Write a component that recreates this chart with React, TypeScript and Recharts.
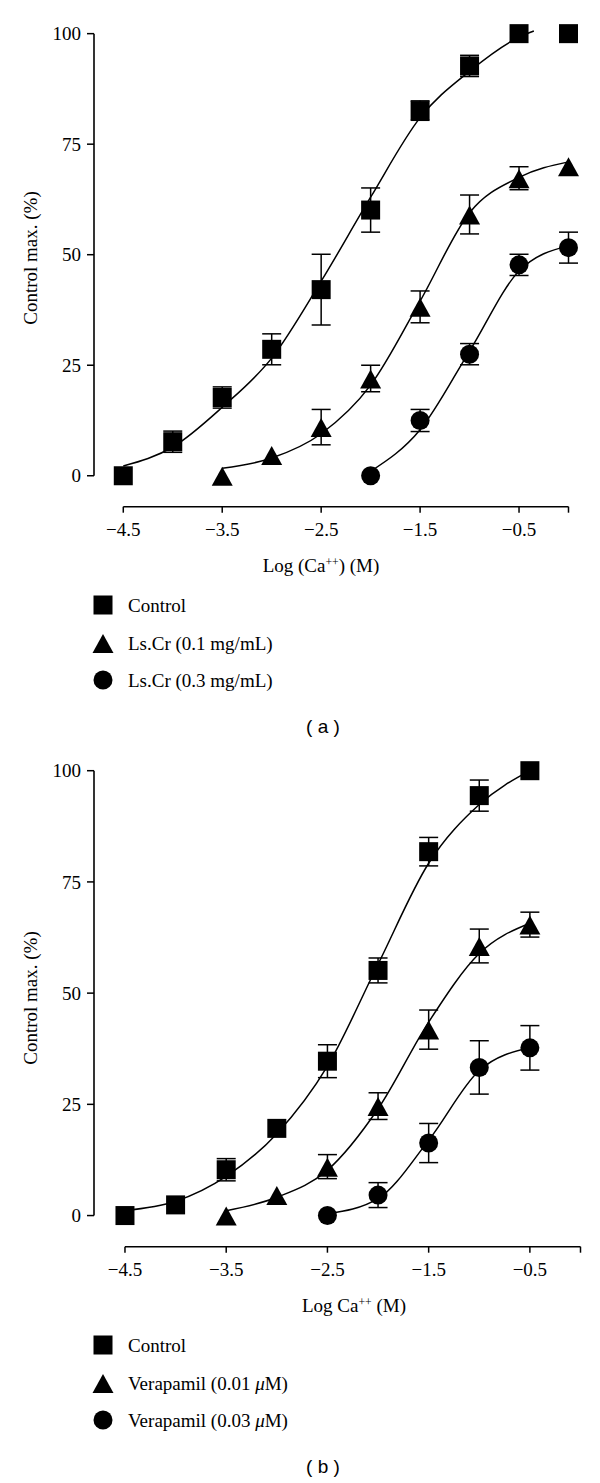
import React from 'react';
import { ComposedChart, Scatter, Line, XAxis, YAxis, ErrorBar, ReferenceLine } from 'recharts';

const X_TICKS = [-4.5, -3.5, -2.5, -1.5, -0.5, 0];
const Y_TICKS = [0, 25, 50, 75, 100];

// (a) Ls.Cr — mean with SEM (e)
const aControl = [
  { x: -4.5, y: 0, e: 0 }, { x: -4, y: 7.7, e: 2.4 }, { x: -3.5, y: 17.7, e: 2.4 },
  { x: -3, y: 28.6, e: 3.5 }, { x: -2.5, y: 42.1, e: 8 }, { x: -2, y: 60.1, e: 5 },
  { x: -1.5, y: 82.6, e: 2.2 }, { x: -1, y: 92.7, e: 2.4 }, { x: -0.5, y: 100, e: 0 }, { x: 0, y: 100, e: 0 },
];
const aLow = [
  { x: -3.5, y: 0, e: 0 }, { x: -3, y: 4.7, e: 0 }, { x: -2.5, y: 11, e: 4 },
  { x: -2, y: 22, e: 3 }, { x: -1.5, y: 38.2, e: 3.6 }, { x: -1, y: 59.1, e: 4.4 },
  { x: -0.5, y: 67.3, e: 2.6 }, { x: 0, y: 70, e: 0 },
];
const aHigh = [
  { x: -2, y: 0, e: 0 }, { x: -1.5, y: 12.5, e: 2.5 }, { x: -1, y: 27.5, e: 2.4 },
  { x: -0.5, y: 47.7, e: 2.4 }, { x: 0, y: 51.6, e: 3.5 },
];

// (a) fitted curves
const aControlFit = [
  { x: -4.5, y: 2.2 }, { x: -4, y: 6.5 }, { x: -3.5, y: 15.5 }, { x: -3, y: 26.6 },
  { x: -2.5, y: 44 }, { x: -2, y: 63 }, { x: -1.5, y: 81 }, { x: -1, y: 91.5 },
  { x: -0.5, y: 99.2 }, { x: -0.35, y: 100.6 },
];
const aLowFit = [
  { x: -3.5, y: 1.7 }, { x: -3, y: 4 }, { x: -2.5, y: 9.5 }, { x: -2, y: 20.5 },
  { x: -1.5, y: 39.5 }, { x: -1, y: 59.5 }, { x: -0.5, y: 67.5 }, { x: 0, y: 71 },
];
const aHighFit = [
  { x: -2, y: 1 }, { x: -1.5, y: 10.4 }, { x: -1, y: 28.2 }, { x: -0.5, y: 46.3 }, { x: 0, y: 52 },
];

// (b) Verapamil
const bControl = [
  { x: -4.5, y: 0, e: 0 }, { x: -4, y: 2.4, e: 0 }, { x: -3.5, y: 10.3, e: 2.5 },
  { x: -3, y: 19.6, e: 0 }, { x: -2.5, y: 34.7, e: 3.7 }, { x: -2, y: 55.1, e: 2.8 },
  { x: -1.5, y: 81.8, e: 3.2 }, { x: -1, y: 94.4, e: 3.5 }, { x: -0.5, y: 100, e: 0 },
];
const bLow = [
  { x: -3.5, y: 0, e: 0 }, { x: -3, y: 4.6, e: 0 }, { x: -2.5, y: 11, e: 2.7 },
  { x: -2, y: 24.6, e: 3 }, { x: -1.5, y: 41.8, e: 4.4 }, { x: -1, y: 60.6, e: 3.8 },
  { x: -0.5, y: 65.4, e: 2.8 },
];
const bHigh = [
  { x: -2.5, y: 0, e: 0 }, { x: -2, y: 4.6, e: 2.8 }, { x: -1.5, y: 16.3, e: 4.4 },
  { x: -1, y: 33.3, e: 6 }, { x: -0.5, y: 37.7, e: 5 },
];

const bControlFit = [
  { x: -4.5, y: 1.1 }, { x: -4, y: 3.2 }, { x: -3.5, y: 8.8 }, { x: -3, y: 18.4 },
  { x: -2.5, y: 33.6 }, { x: -2, y: 56.5 }, { x: -1.5, y: 79.2 }, { x: -1, y: 92.4 }, { x: -0.5, y: 100 },
];
const bLowFit = [
  { x: -3.5, y: 1.1 }, { x: -3, y: 4.1 }, { x: -2.5, y: 10.2 }, { x: -2, y: 24 },
  { x: -1.5, y: 43.5 }, { x: -1, y: 58.9 }, { x: -0.5, y: 65.7 },
];
const bHighFit = [
  { x: -2.5, y: 0.4 }, { x: -2, y: 3.8 }, { x: -1.5, y: 16.9 }, { x: -1, y: 32.6 }, { x: -0.5, y: 37.7 },
];

const legendA = ['Control', 'Ls.Cr (0.1 mg/mL)', 'Ls.Cr (0.3 mg/mL)'];
const legendB = ['Control', 'Verapamil (0.01 \u03BCM)', 'Verapamil (0.03 \u03BCM)'];

const SERIF = '"Liberation Serif", "Times New Roman", serif';
const INK = '#000';

const Square = ({ cx, cy }: any) => <rect x={cx - 9.5} y={cy - 9.5} width={19} height={19} fill={INK} />;
const Triangle = ({ cx, cy }: any) => (
  <polygon points={`${cx},${cy - 9} ${cx + 10.5},${cy + 10} ${cx - 10.5},${cy + 10}`} fill={INK} />
);
const Dot = ({ cx, cy }: any) => <circle cx={cx} cy={cy} r={9.5} fill={INK} />;
const SHAPES = [Square, Triangle, Dot];

const fmt = (v: number) => (v === 0 ? '' : String(v).replace('-', '\u2212'));

// legend text with an italic mu, as in the figure
const withMu = (s: string) =>
  s.split('\u03BC').map((part, i) => (
    <React.Fragment key={i}>
      {i > 0 && <i>{'\u03BC'}</i>}
      {part}
    </React.Fragment>
  ));

const Centered = ({ x, y, children, style }: any) => (
  <div style={{ position: 'absolute', left: x, top: y, transform: 'translate(-50%, -50%)', whiteSpace: 'nowrap', lineHeight: 1, ...style }}>
    {children}
  </div>
);

const Sup = ({ children }: any) => (
  <span style={{ fontSize: '0.62em', position: 'relative', top: '-0.5em' }}>{children}</span>
);

function Panel({ top, series, fits, xMin, marginTop, marginRight, xTitle, xTitleX, legend, tag }: any) {
  return (
    <div style={{ position: 'absolute', left: 0, top, width: 600, height: 740 }}>
      <ComposedChart width={600} height={560} margin={{ top: marginTop, right: marginRight, left: 0, bottom: 0 }}>
        <XAxis
          type="number"
          dataKey="x"
          domain={[xMin, 0]}
          ticks={X_TICKS}
          interval={0}
          axisLine={false}
          tickLine={{ stroke: INK, strokeWidth: 1.5 }}
          tickSize={6}
          tickMargin={10}
          tickFormatter={fmt}
          tick={{ fontSize: 19, fill: INK, fontFamily: SERIF }}
          height={53.3}
        />
        <YAxis
          type="number"
          dataKey="y"
          domain={[-7, 100]}
          ticks={Y_TICKS}
          interval={0}
          axisLine={false}
          tickLine={{ stroke: INK, strokeWidth: 1.5 }}
          tickSize={7}
          tickMargin={6}
          tick={{ fontSize: 19, fill: INK, fontFamily: SERIF }}
          width={94}
        />
        <ReferenceLine segment={[{ x: xMin, y: 0 }, { x: xMin, y: 100 }]} stroke={INK} strokeWidth={1.6} ifOverflow="visible" />
        <ReferenceLine segment={[{ x: -4.5, y: -7 }, { x: 0, y: -7 }]} stroke={INK} strokeWidth={1.6} ifOverflow="visible" />
        {fits.map((f: any, i: number) => (
          <Line key={'f' + i} data={f} dataKey="y" type="monotone" stroke={INK} strokeWidth={1.5} dot={false} isAnimationActive={false} />
        ))}
        {series.map((s: any, i: number) => {
          const Shape = SHAPES[i];
          return (
            <Scatter key={'s' + i} data={s} dataKey="y" isAnimationActive={false} shape={(p: any) => <Shape cx={p.cx} cy={p.cy} />}>
              <ErrorBar dataKey="e" direction="y" width={9.5} stroke={INK} strokeWidth={1.5} />
            </Scatter>
          );
        })}
      </ComposedChart>
      <Centered x={30} y={258} style={{ fontFamily: SERIF, fontSize: 19, transform: 'translate(-50%, -50%) rotate(-90deg)' }}>
        Control max. (%)
      </Centered>
      <Centered x={xTitleX} y={565} style={{ fontFamily: SERIF, fontSize: 19 }}>
        {xTitle}
      </Centered>
      {legend.map((name: string, i: number) => {
        const Shape = SHAPES[i];
        const cy = 605 + i * 37.5;
        return (
          <div key={name}>
            <svg width={30} height={30} style={{ position: 'absolute', left: 88, top: cy - 15 }}>
              <Shape cx={15} cy={15} />
            </svg>
            <div style={{ position: 'absolute', left: 128, top: cy, transform: 'translateY(-50%)', fontFamily: SERIF, fontSize: 19, lineHeight: 1, whiteSpace: 'nowrap' }}>
              {withMu(name)}
            </div>
          </div>
        );
      })}
      <Centered x={323} y={726} style={{ fontFamily: '"Liberation Sans", Arial, sans-serif', fontSize: 19 }}>
        {tag}
      </Centered>
    </div>
  );
}

export default function App() {
  return (
    <div style={{ position: 'absolute', left: 0, top: 0, width: 600, height: 1483, background: '#fff', color: INK }}>
      <Panel
        top={0}
        series={[aControl, aLow, aHigh]}
        fits={[aControlFit, aLowFit, aHighFit]}
        xMin={-4.796}
        marginTop={31}
        marginRight={31.5}
        xTitle={<>Log (Ca<Sup>++</Sup>) (M)</>}
        xTitleX={321}
        legend={legendA}
        tag="( a )"
      />
      <Panel
        top={740}
        series={[bControl, bLow, bHigh]}
        fits={[bControlFit, bLowFit, bHighFit]}
        xMin={-4.806}
        marginTop={30.7}
        marginRight={19.5}
        xTitle={<>Log Ca<Sup>++</Sup> (M)</>}
        xTitleX={354}
        legend={legendB}
        tag="( b )"
      />
    </div>
  );
}
